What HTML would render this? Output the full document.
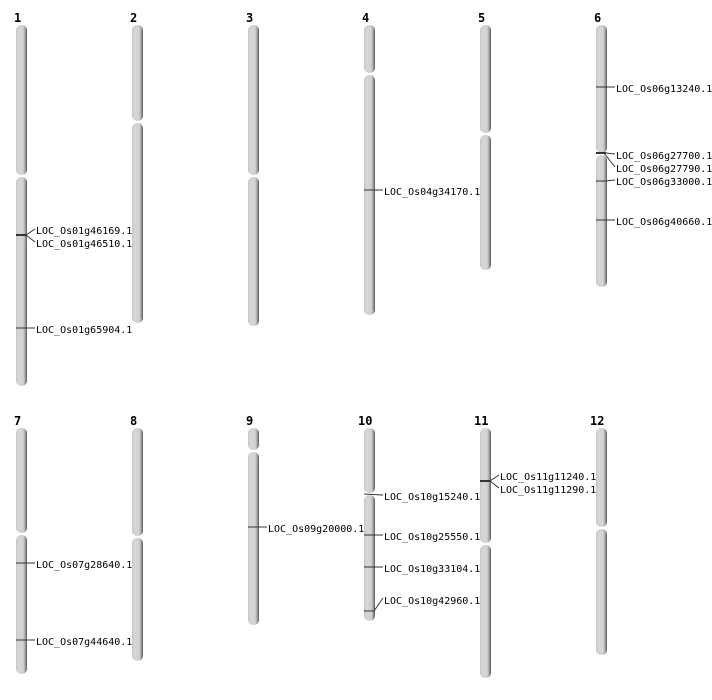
<!DOCTYPE html>
<html><head><meta charset="utf-8"><style>
html,body{margin:0;padding:0;background:#fff;}
svg{display:block;}
text{font-family:"DejaVu Sans Mono","Liberation Mono",monospace;}
.n{font-size:12px;font-weight:bold;fill:#000;}
.l{font-size:10px;fill:#000;}
</style></head><body>
<svg width="712" height="700" viewBox="0 0 712 700" xmlns="http://www.w3.org/2000/svg">
<defs>
<linearGradient id="g" x1="0" x2="1" y1="0" y2="0">
<stop offset="0" stop-color="#c4c4c4"/>
<stop offset="0.2" stop-color="#d6d6d6"/>
<stop offset="0.65" stop-color="#d2d2d2"/>
<stop offset="0.82" stop-color="#a8a8a8"/>
<stop offset="1" stop-color="#555"/>
</linearGradient>
</defs>
<g fill="url(#g)">
<!-- row 1 -->
<rect x="16" y="25" width="11" height="150" rx="5"/>
<rect x="16" y="177" width="11" height="209" rx="5"/>
<rect x="132" y="25" width="11" height="96" rx="5"/>
<rect x="132" y="123" width="11" height="200" rx="5"/>
<rect x="248" y="25" width="11" height="150" rx="5"/>
<rect x="248" y="177" width="11" height="149" rx="5"/>
<rect x="364" y="25" width="11" height="48" rx="5"/>
<rect x="364" y="75" width="11" height="240" rx="5"/>
<rect x="480" y="25" width="11" height="108" rx="5"/>
<rect x="480" y="135" width="11" height="135" rx="5"/>
<rect x="596" y="25" width="11" height="128" rx="5"/>
<rect x="596" y="155" width="11" height="132" rx="5"/>
<!-- row 2 -->
<rect x="16" y="428" width="11" height="105" rx="5"/>
<rect x="16" y="535" width="11" height="139" rx="5"/>
<rect x="132" y="428" width="11" height="108" rx="5"/>
<rect x="132" y="538" width="11" height="123" rx="5"/>
<rect x="248" y="428" width="11" height="22" rx="5"/>
<rect x="248" y="452" width="11" height="173" rx="5"/>
<rect x="364" y="428" width="11" height="65" rx="5"/>
<rect x="364" y="495" width="11" height="126" rx="5"/>
<rect x="480" y="428" width="11" height="115" rx="5"/>
<rect x="480" y="545" width="11" height="133" rx="5"/>
<rect x="596" y="428" width="11" height="99" rx="5"/>
<rect x="596" y="529" width="11" height="126" rx="5"/>
</g>
<g class="n">
<text class="n" x="14" y="22">1</text>
<text class="n" x="130" y="22">2</text>
<text class="n" x="246" y="22">3</text>
<text class="n" x="362" y="22">4</text>
<text class="n" x="478" y="22">5</text>
<text class="n" x="594" y="22">6</text>
<text class="n" x="14" y="425">7</text>
<text class="n" x="130" y="425">8</text>
<text class="n" x="246" y="425">9</text>
<text class="n" x="358" y="425">10</text>
<text class="n" x="474" y="425">11</text>
<text class="n" x="590" y="425">12</text>
</g>
<g stroke="#333" stroke-width="1" fill="none">
<!-- chr1 -->
<line x1="16" y1="235" x2="26" y2="235" stroke-width="2"/>
<line x1="26" y1="235" x2="35" y2="229"/>
<line x1="26" y1="235" x2="35" y2="242"/>
<line x1="16" y1="328" x2="35" y2="328"/>
<!-- chr4 -->
<line x1="364" y1="190" x2="383" y2="190"/>
<!-- chr6 -->
<line x1="596" y1="87" x2="615" y2="87"/>
<line x1="596" y1="153" x2="606" y2="153" stroke-width="2"/>
<line x1="606" y1="153" x2="615" y2="154"/>
<line x1="604" y1="153" x2="615" y2="167"/>
<line x1="596" y1="181" x2="606" y2="181"/>
<line x1="606" y1="181" x2="615" y2="180"/>
<line x1="596" y1="220" x2="615" y2="220"/>
<!-- chr7 -->
<line x1="16" y1="563" x2="35" y2="563"/>
<line x1="16" y1="640" x2="35" y2="640"/>
<!-- chr9 -->
<line x1="248" y1="527" x2="267" y2="527"/>
<!-- chr10 -->
<line x1="364" y1="494" x2="383" y2="495"/>
<line x1="364" y1="535" x2="383" y2="535"/>
<line x1="364" y1="567" x2="383" y2="567"/>
<line x1="364" y1="611" x2="374" y2="611"/>
<line x1="374" y1="611" x2="383" y2="598"/>
<!-- chr11 -->
<line x1="480" y1="481" x2="490" y2="481" stroke-width="2"/>
<line x1="490" y1="481" x2="499" y2="475"/>
<line x1="490" y1="481" x2="499" y2="488"/>
</g>
<g class="l">
<text class="l" x="36" y="234">LOC_Os01g46169.1</text>
<text class="l" x="36" y="247">LOC_Os01g46510.1</text>
<text class="l" x="36" y="333">LOC_Os01g65904.1</text>
<text class="l" x="384" y="195">LOC_Os04g34170.1</text>
<text class="l" x="616" y="92">LOC_Os06g13240.1</text>
<text class="l" x="616" y="159">LOC_Os06g27700.1</text>
<text class="l" x="616" y="172">LOC_Os06g27790.1</text>
<text class="l" x="616" y="185">LOC_Os06g33000.1</text>
<text class="l" x="616" y="225">LOC_Os06g40660.1</text>
<text class="l" x="36" y="568">LOC_Os07g28640.1</text>
<text class="l" x="36" y="645">LOC_Os07g44640.1</text>
<text class="l" x="268" y="532">LOC_Os09g20000.1</text>
<text class="l" x="384" y="500">LOC_Os10g15240.1</text>
<text class="l" x="384" y="540">LOC_Os10g25550.1</text>
<text class="l" x="384" y="572">LOC_Os10g33104.1</text>
<text class="l" x="384" y="604">LOC_Os10g42960.1</text>
<text class="l" x="500" y="480">LOC_Os11g11240.1</text>
<text class="l" x="500" y="493">LOC_Os11g11290.1</text>
</g>
</svg>
</body></html>
